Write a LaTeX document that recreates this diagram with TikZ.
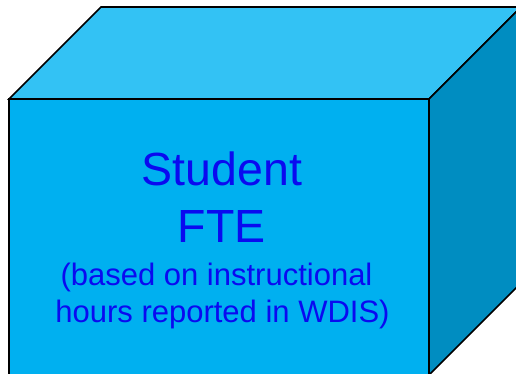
\documentclass[tikz,border=0pt]{standalone}
\usepackage{fontspec}
\setmainfont{Liberation Sans}
\definecolor{frontc}{HTML}{00B0F0}
\definecolor{topc}{HTML}{33C2F4}
\definecolor{sidec}{HTML}{008DC1}
\definecolor{txtc}{HTML}{0A0AF0}
\begin{document}
\begin{tikzpicture}[x=1pt,y=-1pt,
  face/.style={draw=black,line width=1.6pt,line join=miter},
  bigtext/.style={anchor=base,inner sep=0pt,text=txtc,font=\fontsize{46.5}{50}\selectfont},
  smalltext/.style={anchor=base,inner sep=0pt,text=txtc,font=\fontsize{31}{34}\selectfont}]
\useasboundingbox (0,0) rectangle (516,373);
\clip (0,0) rectangle (516,373);
\fill[white] (0,0) rectangle (516,373);
\draw[face,fill=topc] (9,99) -- (101,7) -- (521,7) -- (429,99) -- cycle;
\draw[face,fill=sidec] (429,99) -- (521,7) -- (521,283) -- (429,375) -- cycle;
\draw[face,fill=frontc] (9,99) -- (429,99) -- (429,380) -- (9,380) -- cycle;
\node[bigtext] (l1) at (222,185) {Student};
\node[bigtext] (l2) at (221.5,242) {FTE};
\node[smalltext] (l3) at (216.5,285) {(based on instructional};
\node[smalltext] (l4) at (222.5,322) {hours reported in WDIS)};
\end{tikzpicture}
\end{document}
